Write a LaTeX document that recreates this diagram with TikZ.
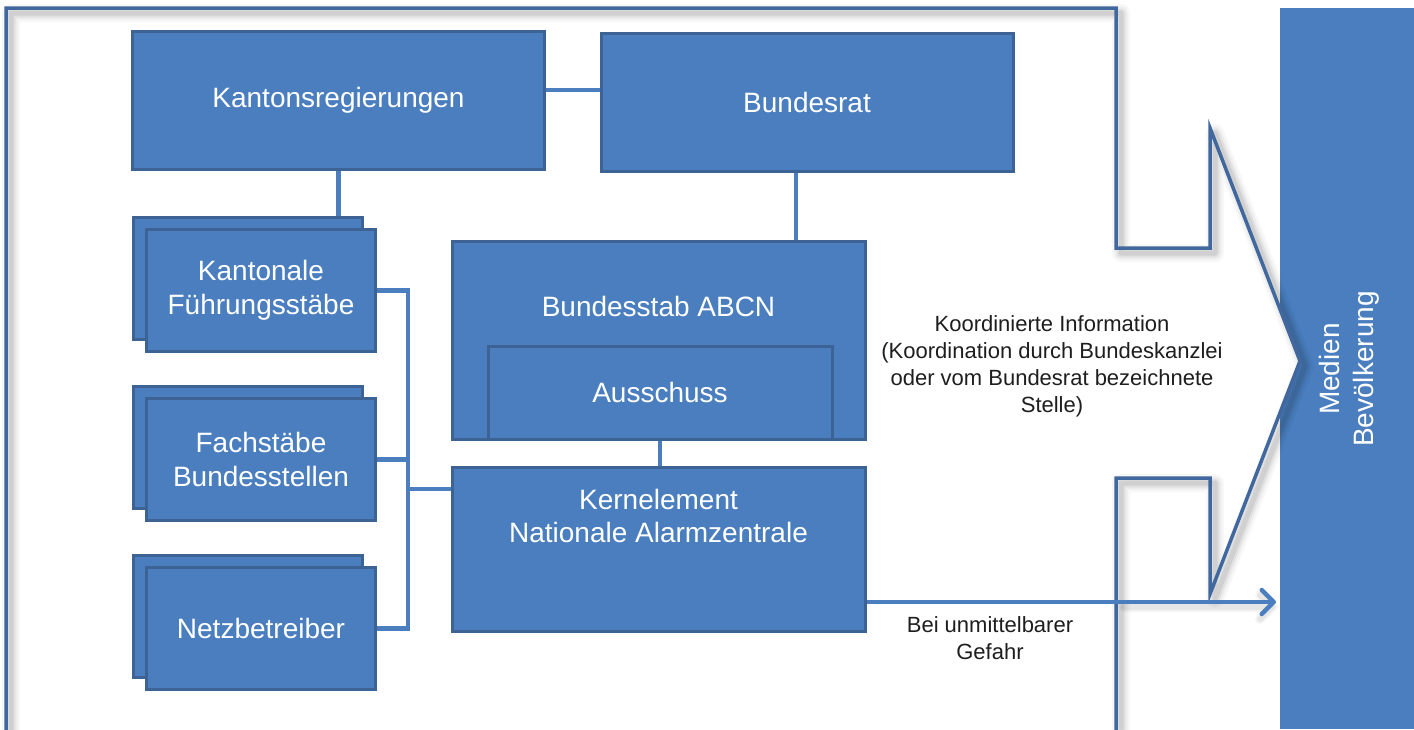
\documentclass[tikz,border=0pt]{standalone}
\usepackage{fontspec}
\setmainfont{Liberation Sans}
\usetikzlibrary{arrows.meta}

\definecolor{boxfill}{HTML}{4A7EBF}
\definecolor{boxedge}{HTML}{3C6393}
\definecolor{frameedge}{HTML}{41689E}
\definecolor{wirecol}{HTML}{4A7EBF}
\definecolor{notecol}{HTML}{1E1E1E}

\tikzset{
  unit/.style={draw=boxedge, fill=boxfill, line width=3pt, inner sep=0pt,
    text=white, font=\fontsize{28}{33.5}\selectfont, align=center},
  unittext/.style={inner sep=0pt, text=white,
    font=\fontsize{28}{33.5}\selectfont, align=center},
  wire/.style={draw=wirecol, line width=4.5pt},
  notetext/.style={inner sep=0pt, text=notecol,
    font=\fontsize{22}{27}\selectfont, align=center},
  stack/.style={unit, minimum width=229pt, minimum height=122pt},
}

% outline of the surrounding frame with the block arrow on its right side
\def\framepath{(6,760) -- (6,8) -- (1116,8) -- (1116,248) -- (1210,248)
  -- (1210,128) -- (1300,361) -- (1210,594) -- (1210,478) -- (1116,478)
  -- (1116,760)}

\begin{document}
\begin{tikzpicture}[x=1pt, y=-1pt]
  \fill[white] (0,0) rectangle (1414,729);
  \clip (0,0) rectangle (1414,729);

  % target column
  \node[fill=boxfill, inner sep=0pt, minimum width=134pt, minimum height=721pt]
    (med) at (1347,368.5) {};
  \node[unittext, rotate=90] (medtext) at (1349,369) {Medien\\Bevölkerung};

  % frame and block arrow with soft shadow
  \fill[white] \framepath;
  \begin{scope}[shift={(5,5)}, line join=round]
    \foreach \w/\o in {18/0.03, 13/0.04, 9/0.05, 5/0.07}
      \draw[line width=\w pt, black, opacity=\o] \framepath;
  \end{scope}
  \draw[frameedge, line width=3.5pt, line join=miter] \framepath;

  % top level
  \node[unit, minimum width=412pt, minimum height=138pt] (kr) at (338.5,100)
    {Kantonsregierungen};
  \node[unit, minimum width=412pt, minimum height=138pt] (br) at (807,102)
    {Bundesrat};

  % stacked boxes on the left
  \node[stack] (kfsb) at (248,278) {};
  \node[stack] (kfs) at (261,290.5) {Kantonale\\Führungsstäbe};
  \node[stack] (fbsb) at (248,447) {};
  \node[stack] (fbs) at (261,459.5) {Fachstäbe\\Bundesstellen};
  \node[stack] (nbb) at (248,616) {};
  \node[stack] (nb) at (261,628.5) {Netzbetreiber};

  % federal staff with its committee
  \node[unit, minimum width=413pt, minimum height=198pt] (bs) at (658.5,340) {};
  \node[unittext] (bstext) at (658.5,306) {Bundesstab ABCN};
  \node[unit, minimum width=344pt, minimum height=93pt] (au) at (660,392.5)
    {Ausschuss};

  % core element
  \node[unit, minimum width=413pt, minimum height=164pt] (ke) at (658.5,549) {};
  \node[unittext] (ketext) at (658.5,516) {Kernelement\\Nationale Alarmzentrale};

  % connectors
  \draw[wire] ([yshift=10pt]kr.east) -- ([yshift=10pt]kr.east -| br.west);
  \draw[wire] (kr.south) -- (kr.south |- kfsb.north);
  \draw[wire] ([xshift=-11pt]br.south) -- ([xshift=-11pt]br.south |- bs.north);
  \draw[wire] (au.south) -- (au.south |- ke.north);

  \coordinate (bus) at (408,489);
  \draw[wire] (kfs.east) -- (kfs.east -| bus) -- (nb.east -| bus) -- (nb.east);
  \draw[wire] (fbs.east) -- (fbs.east -| bus);
  \draw[wire] (bus) -- (bus -| ke.west);

  % direct alert path
  \coordinate (hit) at (1276,602);
  \begin{scope}[shift={(4,5)}]
    \foreach \w/\o in {10/0.04, 6/0.06}
      \draw[line width=\w pt, black, opacity=\o, line cap=round]
        (1120,602) -- (1262,602) (1256,590) -- (1268,602) -- (1256,614);
  \end{scope}
  \draw[wire, -{Straight Barb[length=12pt, width=24pt, round]}]
    (ke.east |- hit) -- (hit);

  % annotations
  \node[notetext] (info) at (1052,366.5)
    {Koordinierte Information\\(Koordination durch Bundeskanzlei\\oder vom Bundesrat bezeichnete\\Stelle)};
  \node[notetext] (danger) at (990,638) {Bei unmittelbarer\\Gefahr};
\end{tikzpicture}
\end{document}
